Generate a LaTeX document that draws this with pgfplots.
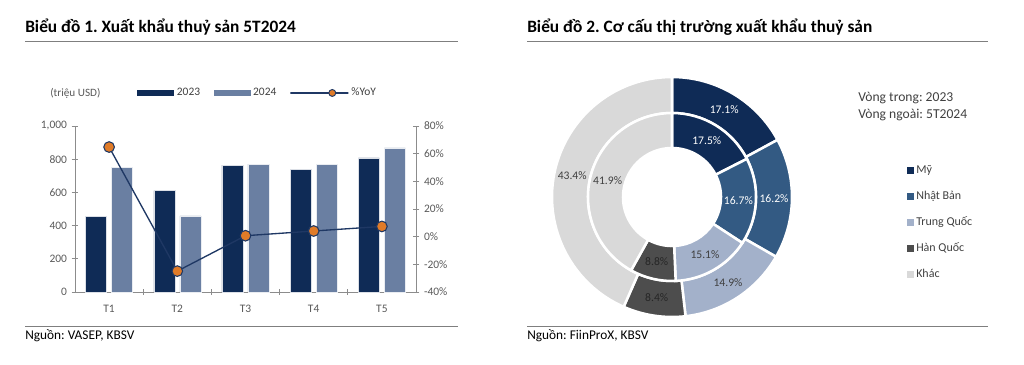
\documentclass[border=0pt]{standalone}
\usepackage{fontspec}
\setmainfont{Carlito}
\usepackage{pgfplots}
\pgfplotsset{compat=1.18}
\frenchspacing
\definecolor{c2023}{HTML}{0F2B56}
\definecolor{c2024}{HTML}{6A7FA2}
\definecolor{lineblue}{HTML}{1F3864}
\definecolor{markorange}{HTML}{E07B28}
\definecolor{d1}{HTML}{0F2B56}
\definecolor{d2}{HTML}{335A83}
\definecolor{d3}{HTML}{A3B1CA}
\definecolor{d4}{HTML}{4D4D4D}
\definecolor{d5}{HTML}{D9D9D9}
\definecolor{axisgray}{HTML}{8C8C8C}
\definecolor{rulegray}{HTML}{7F7F7F}
\definecolor{tickgray}{HTML}{595959}
\definecolor{labdark}{HTML}{404040}
\definecolor{labblack}{HTML}{262626}
\pgfplotsset{
  sqlegend/.style={legend image code/.code={\fill[##1,draw=none] (0pt,-2.6pt) rectangle (5.2pt,2.6pt);}},
  barlegend/.style={legend image code/.code={\fill[##1,draw=none] (0pt,-2.6pt) rectangle (27.75pt,2.6pt);}},
  linelegend/.style={legend image code/.code={\draw[mark repeat=2,mark phase=2,##1] plot coordinates {(0pt,0pt) (13.875pt,0pt) (27.75pt,0pt)};}},
}
% wedge: r_in r_out start_pct pct fill textcolor
\newcommand\donutwedge[6]{%
  \fill[#5, draw=white, line width=1.9pt]
    (axis cs:{#2*sin(#3*3.6)},{#2*cos(#3*3.6)})
    arc[start angle={90-#3*3.6}, end angle={90-(#3+#4)*3.6}, radius={#2*0.75pt}]
    -- (axis cs:{#1*sin((#3+#4)*3.6)},{#1*cos((#3+#4)*3.6)})
    arc[start angle={90-(#3+#4)*3.6}, end angle={90-#3*3.6}, radius={#1*0.75pt}]
    -- cycle;
  \node[text=#6, font=\fontsize{8.7}{9}\selectfont, inner sep=0pt]
    at (axis cs:{(#1+#2)/2*sin((#3+#4/2)*3.6)},{(#1+#2)/2*cos((#3+#4/2)*3.6)}) {#4\%};
}
\begin{document}
\begin{tikzpicture}
\path[use as bounding box] (0pt,0pt) rectangle (768pt,-273pt);
\begin{scope}[x=0.75pt,y=-0.75pt]
  \node[anchor=base west, inner sep=0pt, font=\bfseries\fontsize{13}{14}\selectfont] at (25,32.5) {Biểu đồ 1. Xuất khẩu thuỷ sản 5T2024};
  \node[anchor=base west, inner sep=0pt, font=\bfseries\fontsize{13}{14}\selectfont] at (527,32.5) {Biểu đồ 2. Cơ cấu thị trường xuất khẩu thuỷ sản};
  \draw[rulegray, line width=0.75pt] (25,41) -- (458,41);
  \draw[rulegray, line width=0.75pt] (527,41) -- (988,41);
  \draw[rulegray, line width=0.75pt] (25,326) -- (458,326);
  \draw[rulegray, line width=0.75pt] (527,326) -- (988,326);
  \node[anchor=base west, inner sep=0pt, font=\fontsize{10}{11}\selectfont] at (25,339.5) {Nguồn: VASEP, KBSV};
  \node[anchor=base west, inner sep=0pt, font=\fontsize{10}{11}\selectfont] at (527,339.5) {Nguồn: FiinProX, KBSV};
  \node[anchor=west, inner sep=0pt, text=tickgray, font=\fontsize{8.4}{9}\selectfont] at (50,93) {(triệu USD)};
  \node[anchor=west, inner sep=0pt, text=labdark, font=\fontsize{10.2}{11}\selectfont] at (858,98) {Vòng trong: 2023};
  \node[anchor=west, inner sep=0pt, text=labdark, font=\fontsize{10.2}{11}\selectfont] at (858,114.5) {Vòng ngoài: 5T2024};
\end{scope}

% bar chart
\begin{axis}[
  at={(56.25pt,-219pt)}, anchor=south west,
  scale only axis, width=255.75pt, height=124.5pt,
  xmin=-0.5, xmax=4.5, ymin=0, ymax=1000,
  axis x line*=bottom, axis y line*=left,
  axis line style={draw=axisgray, line width=0.6pt},
  ybar=3.75pt, bar width=15.75pt,
  xtick={0,1,2,3,4}, xticklabels={T1,T2,T3,T4,T5},
  major x tick style={draw=none},
  minor xtick={0.5,1.5,2.5,3.5},
  minor tick length=4pt,
  major tick length=5pt,
  tick align=center,
  tick style={draw=axisgray, line width=0.6pt},
  ytick={0,200,400,600,800,1000},
  yticklabels={0,200,400,600,800,{1,000}},
  tick label style={font=\fontsize{8.6}{9}\selectfont, text=tickgray},
  xticklabel style={yshift=-4pt},
  legend columns=3,
  legend style={at={(0.1818,1.199)}, anchor=west, draw=none, fill=none, inner sep=0pt,
    font=\fontsize{8.6}{9}\selectfont, text=labdark,
    /tikz/every even column/.append style={column sep=8pt}},
  clip=false,
]
\addplot[fill=c2023, draw=white!85!c2023, line width=0.4pt, barlegend] coordinates {(0,455) (1,610) (2,765) (3,740) (4,808)};
\addlegendentry{2023}
\addplot[fill=c2024, draw=white!85!c2024, line width=0.4pt, barlegend] coordinates {(0,750) (1,458) (2,770) (3,770) (4,868)};
\addlegendentry{2024}
\addlegendimage{lineblue, line width=0.8pt, mark=*, mark size=2.6pt, mark options={fill=markorange, draw=lineblue, line width=0.7pt}, linelegend}
\addlegendentry{\%YoY}
\end{axis}

\begin{axis}[
  at={(56.25pt,-219pt)}, anchor=south west,
  scale only axis, width=255.75pt, height=124.5pt,
  xmin=-0.5, xmax=4.5, ymin=-40, ymax=80,
  axis x line=none, axis y line*=right,
  axis line style={draw=axisgray, line width=0.6pt},
  major tick length=5pt, tick align=center,
  tick style={draw=axisgray, line width=0.6pt},
  ytick={-40,-20,0,20,40,60,80},
  yticklabels={-40\%,-20\%,0\%,20\%,40\%,60\%,80\%},
  tick label style={font=\fontsize{8.6}{9}\selectfont, text=tickgray},
  clip=false,
]
\addplot[lineblue, line width=1pt, mark=*, mark size=4pt, mark options={fill=markorange, draw=lineblue, line width=0.8pt}] coordinates {(0,64.8) (1,-24.9) (2,0.7) (3,4.1) (4,7.4)};
\end{axis}

% donut chart
\begin{axis}[
  at={(504pt,-147.75pt)}, anchor=center,
  x=0.75pt, y=0.75pt,
  xmin=-130, xmax=130, ymin=-130, ymax=130,
  hide axis, clip=false,
  legend style={at={(1.404,0.402)}, anchor=west, draw=none, fill=none, inner sep=0pt,
    font=\fontsize{9}{10}\selectfont, text=labdark, row sep=9pt,
    nodes={inner sep=1.5pt, text height=6pt, text depth=1.5pt}},
  legend cell align=left,
]
\addlegendimage{fill=d1, sqlegend}\addlegendentry{Mỹ}
\addlegendimage{fill=d2, sqlegend}\addlegendentry{Nhật Bản}
\addlegendimage{fill=d3, sqlegend}\addlegendentry{Trung Quốc}
\addlegendimage{fill=d4, sqlegend}\addlegendentry{Hàn Quốc}
\addlegendimage{fill=d5, sqlegend}\addlegendentry{Khác}
% outer ring: 5T2024
\donutwedge{84}{120}{0}{17.1}{d1}{white}
\donutwedge{84}{120}{17.1}{16.2}{d2}{white}
\donutwedge{84}{120}{33.3}{14.9}{d3}{labdark}
\donutwedge{84}{120}{48.2}{8.4}{d4}{labblack}
\donutwedge{84}{120}{56.6}{43.4}{d5}{labdark}
% inner ring: 2023
\donutwedge{49}{84}{0}{17.5}{d1}{white}
\donutwedge{49}{84}{17.5}{16.7}{d2}{white}
\donutwedge{49}{84}{34.2}{15.1}{d3}{labdark}
\donutwedge{49}{84}{49.3}{8.8}{d4}{labblack}
\donutwedge{49}{84}{58.1}{41.9}{d5}{labdark}
\end{axis}
\end{tikzpicture}
\end{document}
